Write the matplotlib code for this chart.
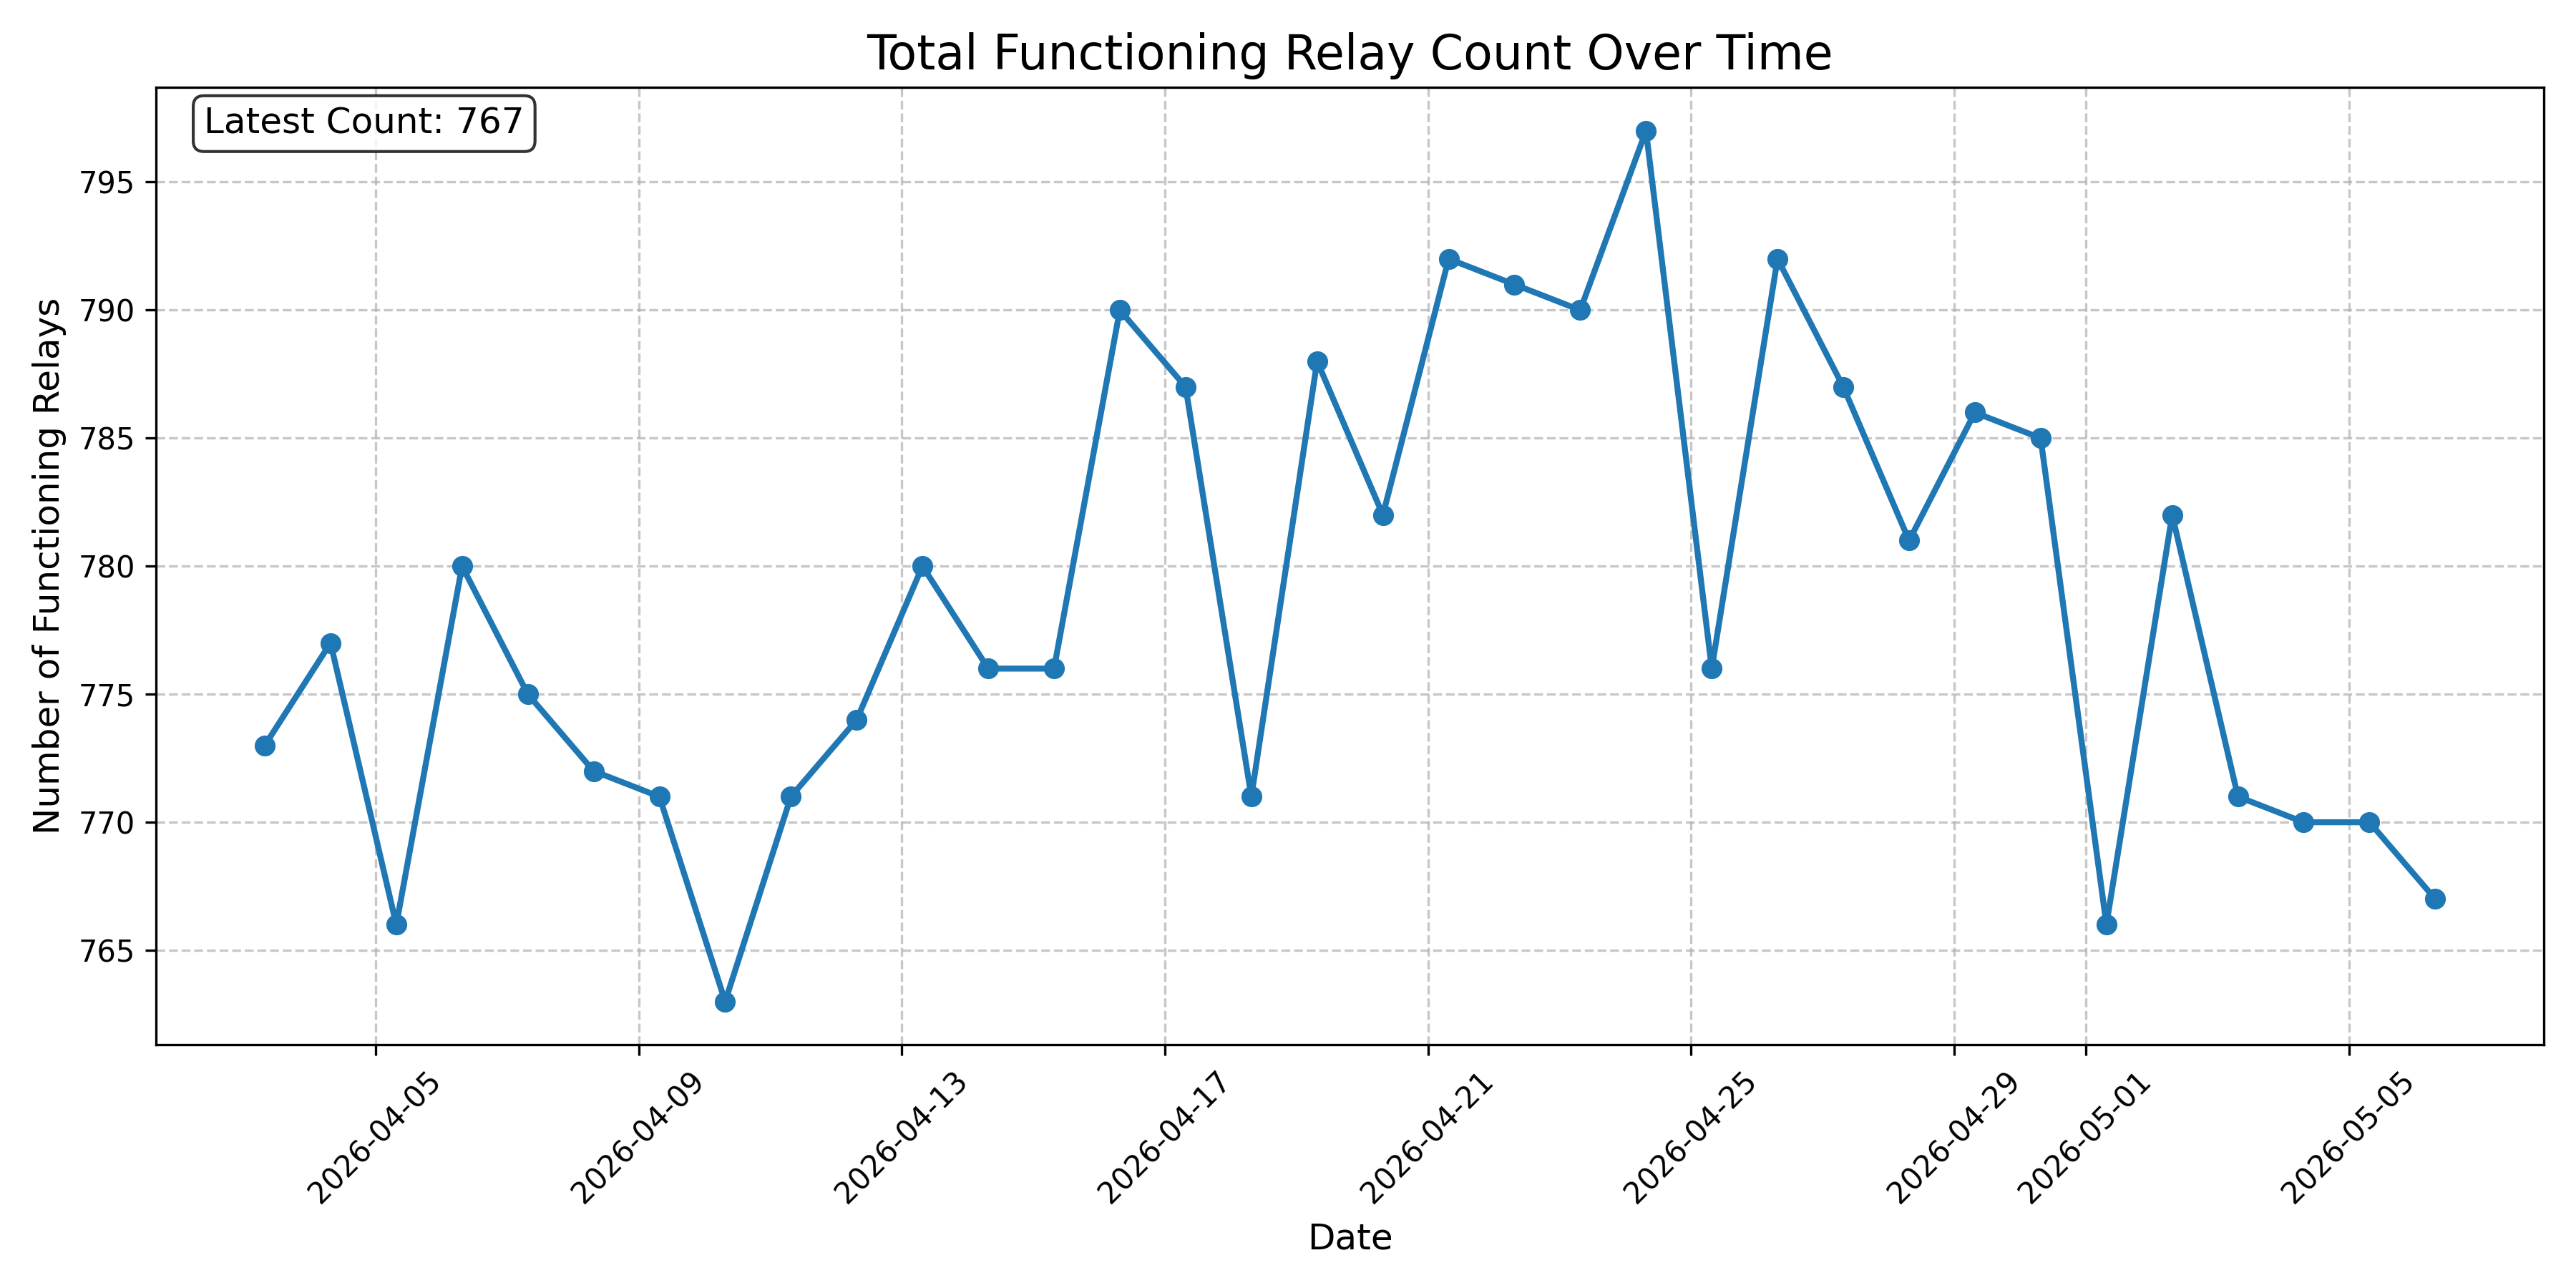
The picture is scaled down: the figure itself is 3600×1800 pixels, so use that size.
import matplotlib
matplotlib.use("Agg")
import matplotlib.pyplot as plt
import pandas as pd

# daily snapshots, taken around 07:30
dates = pd.date_range("2026-04-03 07:30", "2026-05-06 07:30", freq="D")
counts = [773, 777, 766, 780, 775, 772, 771, 763, 771, 774,
          780, 776, 776, 790, 787, 771, 788, 782, 792, 791,
          790, 797, 776, 792, 787, 781, 786, 785, 766, 782,
          771, 770, 770, 767]

fig, ax = plt.subplots(figsize=(12, 6), dpi=300)
ax.plot(dates, counts, marker="o", linestyle="-", linewidth=2, markersize=6)

ax.set_title("Total Functioning Relay Count Over Time", fontsize=16)
ax.set_xlabel("Date", fontsize=12)
ax.set_ylabel("Number of Functioning Relays", fontsize=12)
ax.grid(True, linestyle="--", alpha=0.7)
plt.xticks(rotation=45)

ax.text(0.02, 0.98, f"Latest Count: {counts[-1]}", transform=ax.transAxes,
        fontsize=12, verticalalignment="top",
        bbox=dict(boxstyle="round", facecolor="white", alpha=0.8))

plt.tight_layout()
plt.savefig("out.png", dpi=300)
